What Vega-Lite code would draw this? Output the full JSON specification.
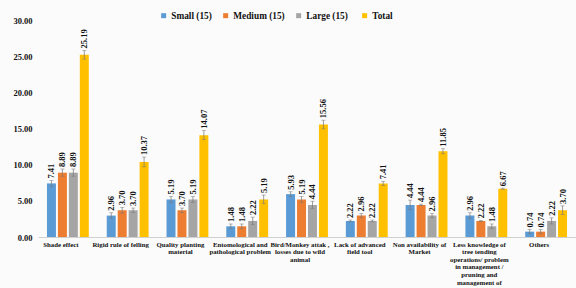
{
  "$schema": "https://vega.github.io/schema/vega-lite/v6.json",
  "width": 538,
  "height": 217,
  "autosize": {"type": "none"},
  "padding": {"left": 38, "top": 20, "right": 0, "bottom": 51},
  "background": "#fbfbfb",
  "config": {
    "view": {"stroke": null},
    "font": "Liberation Serif",
    "axisY": {
      "title": null, "format": ".2f", "grid": false, "domain": false, "ticks": false, "labelOverlap": false,
      "labelFont": "Liberation Serif", "labelFontWeight": "bold", "labelFontSize": 8.5,
      "labelColor": "#111", "labelPadding": 6
    }
  },
  "data": {
    "values": [
      {"cat": "Shade effect", "group": "Small (15)", "value": 7.41, "lo": 7.0, "hi": 7.8},
      {"cat": "Shade effect", "group": "Medium (15)", "value": 8.89, "lo": 8.4, "hi": 9.4},
      {"cat": "Shade effect", "group": "Large  (15)", "value": 8.89, "lo": 8.4, "hi": 9.4},
      {"cat": "Shade effect", "group": "Total", "value": 25.19, "lo": 24.6, "hi": 25.8},
      {"cat": "Rigid rule of felling", "group": "Small (15)", "value": 2.96, "lo": 2.6, "hi": 3.35},
      {"cat": "Rigid rule of felling", "group": "Medium (15)", "value": 3.70, "lo": 3.3, "hi": 4.1},
      {"cat": "Rigid rule of felling", "group": "Large  (15)", "value": 3.70, "lo": 3.4, "hi": 4.0},
      {"cat": "Rigid rule of felling", "group": "Total", "value": 10.37, "lo": 9.7, "hi": 11.05},
      {"cat": "Quality planting|material", "group": "Small (15)", "value": 5.19, "lo": 4.8, "hi": 5.6},
      {"cat": "Quality planting|material", "group": "Medium (15)", "value": 3.70, "lo": 3.4, "hi": 4.0},
      {"cat": "Quality planting|material", "group": "Large  (15)", "value": 5.19, "lo": 4.8, "hi": 5.6},
      {"cat": "Quality planting|material", "group": "Total", "value": 14.07, "lo": 13.45, "hi": 14.7},
      {"cat": "Entomological and|pathological problem", "group": "Small (15)", "value": 1.48, "lo": 1.15, "hi": 1.8},
      {"cat": "Entomological and|pathological problem", "group": "Medium (15)", "value": 1.48, "lo": 1.15, "hi": 1.8},
      {"cat": "Entomological and|pathological problem", "group": "Large  (15)", "value": 2.22, "lo": 1.7, "hi": 2.75},
      {"cat": "Entomological and|pathological problem", "group": "Total", "value": 5.19, "lo": 4.6, "hi": 5.8},
      {"cat": "Bird/Monkey attak ,|losses due to wild|animal", "group": "Small (15)", "value": 5.93, "lo": 5.6, "hi": 6.25},
      {"cat": "Bird/Monkey attak ,|losses due to wild|animal", "group": "Medium (15)", "value": 5.19, "lo": 4.8, "hi": 5.6},
      {"cat": "Bird/Monkey attak ,|losses due to wild|animal", "group": "Large  (15)", "value": 4.44, "lo": 3.95, "hi": 4.95},
      {"cat": "Bird/Monkey attak ,|losses due to wild|animal", "group": "Total", "value": 15.56, "lo": 14.95, "hi": 16.15},
      {"cat": "Lack of advanced|field tool", "group": "Small (15)", "value": 2.22, "lo": 2.1, "hi": 2.35},
      {"cat": "Lack of advanced|field tool", "group": "Medium (15)", "value": 2.96, "lo": 2.65, "hi": 3.25},
      {"cat": "Lack of advanced|field tool", "group": "Large  (15)", "value": 2.22, "lo": 2.1, "hi": 2.35},
      {"cat": "Lack of advanced|field tool", "group": "Total", "value": 7.41, "lo": 7.1, "hi": 7.7},
      {"cat": "Non availability of|Market", "group": "Small (15)", "value": 4.44, "lo": 3.8, "hi": 5.1},
      {"cat": "Non availability of|Market", "group": "Medium (15)", "value": 4.44, "lo": 4.35, "hi": 4.55},
      {"cat": "Non availability of|Market", "group": "Large  (15)", "value": 2.96, "lo": 2.65, "hi": 3.25},
      {"cat": "Non availability of|Market", "group": "Total", "value": 11.85, "lo": 11.5, "hi": 12.2},
      {"cat": "Less knowledge of|tree tending|operations/ problem|in management /|pruning and|management of", "group": "Small (15)", "value": 2.96, "lo": 2.55, "hi": 3.35},
      {"cat": "Less knowledge of|tree tending|operations/ problem|in management /|pruning and|management of", "group": "Medium (15)", "value": 2.22, "lo": 2.15, "hi": 2.3},
      {"cat": "Less knowledge of|tree tending|operations/ problem|in management /|pruning and|management of", "group": "Large  (15)", "value": 1.48, "lo": 1.15, "hi": 1.8},
      {"cat": "Less knowledge of|tree tending|operations/ problem|in management /|pruning and|management of", "group": "Total", "value": 6.67, "lo": 6.6, "hi": 6.75},
      {"cat": "Others", "group": "Small (15)", "value": 0.74, "lo": 0.45, "hi": 1.05},
      {"cat": "Others", "group": "Medium (15)", "value": 0.74, "lo": 0.45, "hi": 1.05},
      {"cat": "Others", "group": "Large  (15)", "value": 2.22, "lo": 1.8, "hi": 2.65},
      {"cat": "Others", "group": "Total", "value": 3.70, "lo": 3.1, "hi": 4.3}
    ]
  },
  "encoding": {
    "x": {
      "field": "cat", "type": "nominal", "sort": null,
      "scale": {"paddingInner": 0.3, "paddingOuter": 0.15},
      "axis": {
        "title": null, "labelAngle": 0, "labelExpr": "split(datum.label, '|')",
        "labelFont": "Liberation Serif", "labelFontWeight": "bold", "labelFontSize": 6.8,
        "labelLineHeight": 7.6, "labelColor": "#111", "ticks": false,
        "domainColor": "#d0d0d0", "labelPadding": 4, "labelLimit": 100, "labelOffset": -7,
        "labelOverlap": false, "labelBound": false
      }
    },
    "xOffset": {
      "field": "group", "type": "nominal", "sort": null,
      "scale": {"paddingInner": 0.18}
    }
  },
  "layer": [
    {
      "mark": {"type": "bar"},
      "encoding": {
        "y": {
          "field": "value", "type": "quantitative",
          "scale": {"domain": [0, 30], "nice": false},
          "axis": {"values": [0, 5, 10, 15, 20, 25, 30]}
        },
        "color": {
          "field": "group", "type": "nominal", "sort": null,
          "scale": {
            "domain": ["Small (15)", "Medium (15)", "Large  (15)", "Total"],
            "range": ["#5b9bd5", "#ed7d31", "#a5a5a5", "#ffc000"]
          },
          "legend": {
            "title": null, "orient": "none", "direction": "horizontal",
            "legendX": 121, "legendY": -9, "symbolType": "square", "symbolSize": 25,
            "labelOffset": 3, "labelFont": "Liberation Serif", "labelFontWeight": "bold", "labelFontSize": 9.3,
            "labelColor": "#111", "columnPadding": 9, "symbolStrokeWidth": 0
          }
        }
      }
    },
    {
      "mark": {"type": "rule", "color": "#777", "strokeWidth": 0.7},
      "encoding": {
        "y": {"field": "lo", "type": "quantitative", "axis": {"values": [0, 5, 10, 15, 20, 25, 30]}},
        "y2": {"field": "hi"}
      }
    },
    {
      "mark": {"type": "tick", "color": "#777", "thickness": 0.7, "size": 4},
      "encoding": {"y": {"field": "lo", "type": "quantitative", "axis": {"values": [0, 5, 10, 15, 20, 25, 30]}}}
    },
    {
      "mark": {"type": "tick", "color": "#777", "thickness": 0.7, "size": 4},
      "encoding": {"y": {"field": "hi", "type": "quantitative", "axis": {"values": [0, 5, 10, 15, 20, 25, 30]}}}
    },
    {
      "mark": {"type": "text", "angle": 270, "align": "left", "baseline": "middle", "dx": 2,
        "font": "Liberation Serif", "fontWeight": "bold", "fontSize": 8.5, "color": "#111"},
      "encoding": {
        "y": {"field": "hi", "type": "quantitative", "axis": {"values": [0, 5, 10, 15, 20, 25, 30]}},
        "text": {"field": "value", "type": "quantitative", "format": ".2f"}
      }
    }
  ]
}
